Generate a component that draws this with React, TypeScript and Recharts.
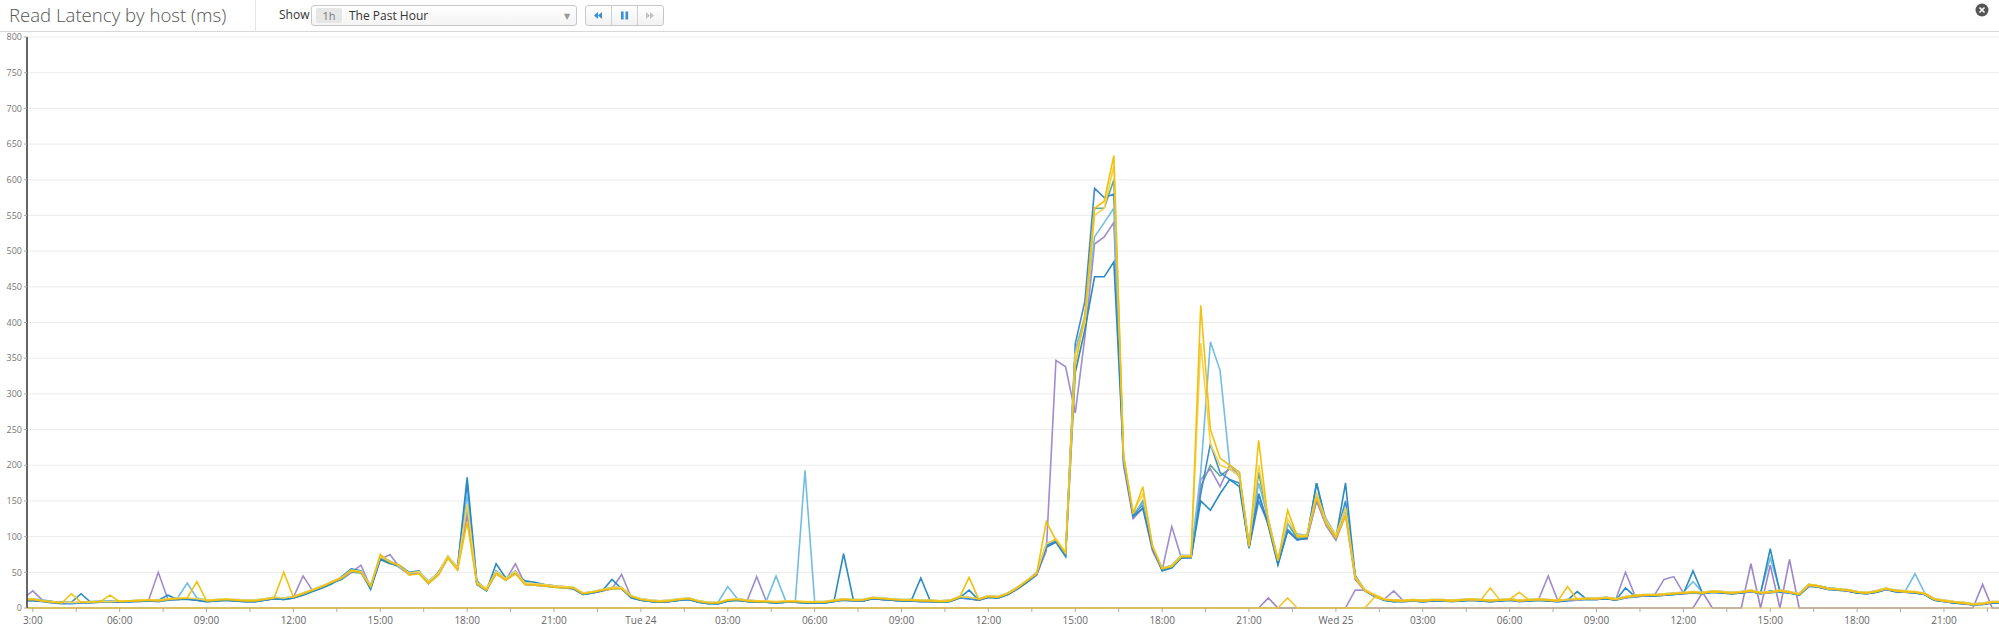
import React from "react";
import { LineChart, Line, XAxis, YAxis, CartesianGrid } from "recharts";

// time grid: one point every 20 minutes, starting Mon 02:00 (hour 2), hours counted from Mon 00:00
const START_HOUR = 2;
const STEP_HOURS = 1 / 3;

const xMajorHours = [3, 6, 9, 12, 15, 18, 21, 24, 27, 30, 33, 36, 39, 42, 45, 48, 51, 54, 57, 60, 63, 66, 69];
const xMajorLabels = ["3:00", "06:00", "09:00", "12:00", "15:00", "18:00", "21:00", "Tue 24", "03:00", "06:00", "09:00", "12:00", "15:00", "18:00", "21:00", "Wed 25", "03:00", "06:00", "09:00", "12:00", "15:00", "18:00", "21:00"];
const yTicks = [0, 50, 100, 150, 200, 250, 300, 350, 400, 450, 500, 550, 600, 650, 700, 750, 800];

const hostA = [
  11,11,12, 11,10,9, 8,8,20, 8,8,9, 9,9,10, 10,11,18,
  12,12,11, 9,10,11, 10,9,9, 11,13,12, 14,18,23, 28,34,44,
  55,52,26, 68,62,60, 50,52,34, 50,70,57, 183,38,24, 62,42,48,
  38,36,33, 31,28,27, 19,21,24, 40,27,14, 11,9,8, 9,11,12,
  8,6,6, 10,11,9, 8,8,7, 8,8,7, 7,7,9, 76,12,10,
  13,12,11, 10,10,42, 9,8,9, 14,25,11, 15,14,19, 27,36,47,
  85,92,72, 330,390,464, 464,485,210, 128,140,84, 52,56,70, 70,150,137,
  160,180,170, 84,160,115, 60,108,95, 98,175,118, 98,175,46, 24,16,11,
  9,10,10, 9,10,11, 10,10,11, 10,9,10, 11,10,10, 11,10,9,
  11,23,12, 12,13,11, 28,16,17, 17,18,19, 20,52,20, 22,21,20,
  21,23,20, 83,22,21, 18,30,31, 28,27,24, 21,20,22, 26,23,22,
  21,19,11, 9,7,6, 5,5,7, 7,
];
const hostB = [
  13,13,12, 13,11,9, 8,7,8, 9,10,10, 10,10,11, 11,11,13,
  14,35,14, 11,12,12, 12,11,11, 13,15,14, 16,21,26, 31,37,43,
  54,52,32, 72,66,57, 49,51,38, 49,73,57, 160,36,27, 52,41,51,
  35,34,33, 31,30,29, 21,23,26, 29,29,17, 13,11,10, 11,13,14,
  10,8,8, 30,13,11, 10,10,45, 10,10,193, 9,9,11, 13,12,12,
  15,14,13, 12,12,11, 11,10,11, 16,15,13, 17,16,21, 29,39,50,
  90,96,76, 360,410,520, 540,560,208, 132,147,86, 56,60,74, 74,190,373,
  333,200,190, 88,175,125, 68,118,104, 102,160,125, 102,140,45, 26,18,12,
  11,11,12, 11,12,12, 11,12,13, 12,11,12, 13,11,12, 13,12,11,
  12,13,14, 14,15,13, 16,18,19, 19,20,21, 22,37,22, 24,23,22,
  23,25,22, 70,25,23, 20,33,31, 28,27,26, 23,22,24, 28,25,24,
  48,21,13, 11,9,8, 6,7,9, 9,
];
const hostC = [
  14,14,13, 24,11,9, 8,7,8, 8,9,9, 9,10,10, 11,50,12,
  12,13,11, 10,11,12, 11,10,10, 12,14,13, 15,45,24, 29,35,41,
  50,60,29, 68,75,57, 47,49,35, 46,70,54, 130,34,25, 48,39,62,
  33,32,31, 29,30,27, 19,21,24, 27,47,15, 11,10,8, 9,11,12,
  8,7,6, 11,11,10, 44,9,8, 8,8,8, 8,7,10, 12,11,10,
  13,12,11, 11,12,10, 10,9,10, 14,13,11, 15,14,19, 26,36,46,
  80,347,338, 273,380,510, 520,540,200, 125,140,80, 53,114,70, 71,180,195,
  170,200,185, 90,160,118, 64,108,97, 96,150,115, 95,130,40, 24,17,11,
  10,9,10, 10,10,11, 10,11,11, 11,10,11, 12,10,11, 12,45,10,
  11,12,13, 13,14,12, 50,17,17, 18,40,44, 21,22,21, 23,22,21,
  22,24,21, 22,24,22, 19,32,30, 27,26,25, 22,21,23, 27,24,23,
  22,20,12, 10,8,7, 5,6,8, 8,
];
const hostD = [
  12,12,11, 12,10,8, 7,20,8, 8,9,18, 9,10,10, 11,10,12,
  13,14,37, 10,11,12, 11,10,10, 12,14,50, 15,20,25, 30,36,42,
  52,50,30, 75,64,60, 46,48,34, 46,70,53, 120,34,25, 48,39,48,
  33,32,31, 29,28,28, 20,22,25, 27,27,16, 12,10,9, 10,12,13,
  9,7,7, 11,12,10, 9,9,8, 9,9,8, 8,8,10, 12,11,11,
  14,13,12, 11,11,10, 10,9,10, 15,43,12, 16,15,20, 28,38,48,
  121,95,78, 340,410,560, 570,634,215, 132,170,86, 55,58,72, 72,424,250,
  210,200,190, 86,235,120, 66,137,100, 100,155,118, 98,130,42, 24,18,12,
  10,10,11, 10,11,11, 10,11,12, 11,10,11, 12,10,11, 12,11,10,
  30,12,13, 13,14,12, 15,17,18, 18,19,20, 21,22,21, 23,22,21,
  22,24,21, 22,24,22, 19,33,31, 27,26,25, 22,21,23, 27,24,23,
  22,20,12, 10,8,7, 5,6,8, 8,
];
const hostE = [
  11,11,11, 11,9,8, 7,7,7, 8,8,8, 9,9,10, 10,10,11,
  12,13,11, 10,10,11, 10,10,9, 11,13,12, 14,19,24, 29,35,40,
  50,49,28, 69,63,57, 47,49,35, 47,71,55, 140,34,25, 49,39,49,
  33,32,31, 29,28,27, 19,21,24, 27,27,15, 11,9,8, 9,11,12,
  8,7,6, 10,11,9, 8,8,7, 8,8,7, 7,7,9, 11,10,10,
  13,12,11, 10,10,9, 9,8,9, 14,13,11, 15,14,19, 27,37,47,
  86,93,74, 360,405,560, 560,600,212, 128,150,85, 54,57,71, 71,170,200,
  185,195,185, 85,190,122, 66,118,98, 98,150,120, 99,140,43, 25,17,11,
  10,10,10, 9,10,10, 10,10,11, 10,10,10, 11,10,10, 11,10,10,
  11,12,12, 12,13,12, 14,16,17, 17,18,19, 20,21,20, 22,21,20,
  21,23,20, 21,23,21, 18,31,29, 26,25,24, 21,20,22, 26,23,22,
  21,19,11, 9,7,6, 5,6,7, 7,
];
const hostF = [
  12,12,12, 13,10,9, 8,8,8, 9,9,9, 10,10,11, 12,11,13,
  14,14,13, 11,12,13, 12,11,11, 13,15,14, 16,21,26, 31,37,43,
  53,51,31, 72,65,59, 49,51,37, 49,73,56, 145,36,27, 51,41,51,
  35,34,33, 31,30,29, 21,23,26, 29,29,17, 13,11,10, 11,13,14,
  10,8,8, 12,13,11, 10,10,9, 10,10,9, 9,9,11, 13,12,12,
  15,14,13, 12,12,11, 11,10,11, 16,15,13, 17,16,21, 29,39,49,
  90,97,77, 355,400,550, 560,620,212, 134,160,88, 56,59,73, 73,371,230,
  200,195,185, 88,200,125, 68,125,102, 102,160,122, 102,140,44, 26,19,13,
  11,11,12, 11,12,12, 11,12,13, 12,11,12, 13,11,12, 13,12,11,
  12,13,14, 14,15,13, 16,18,19, 19,20,21, 22,23,22, 24,23,22,
  23,25,22, 23,25,23, 20,33,31, 28,27,26, 23,22,24, 28,25,24,
  23,21,13, 11,9,8, 6,7,9, 9,
];
const hostG = [
  10,10,10, 10,9,7, 6,6,7, 7,8,8, 8,9,9, 10,9,11,
  12,13,11, 9,10,11, 10,9,9, 11,13,12, 14,19,24, 29,35,41,
  53,51,29, 71,65,59, 49,51,36, 48,72,54, 175,33,24, 52,40,52,
  34,33,32, 30,29,28, 20,22,25, 28,28,15, 11,9,8, 9,11,12,
  8,6,6, 10,11,9, 8,8,7, 8,8,7, 7,7,9, 11,10,10,
  13,12,11, 10,10,9, 9,8,9, 14,13,11, 15,14,19, 27,37,48,
  88,94,74, 370,430,588, 575,580,205, 130,145,84, 54,57,71, 71,160,230,
  190,180,175, 84,150,118, 62,110,96, 98,175,120, 100,150,44, 25,17,11,
  9,9,10, 9,10,10, 9,10,11, 10,9,10, 11,9,10, 11,10,9,
  10,11,12, 12,13,11, 14,16,17, 17,18,19, 20,21,20, 22,21,20,
  21,23,20, 24,23,21, 18,31,29, 26,25,24, 21,20,22, 26,23,22,
  21,19,11, 9,7,6, 4,5,7, 7,
];
// yellow host: no data (0) until early Wednesday
const hostZ1 = [
  0,0,0, 0,0,0, 0,0,0, 0,0,0, 0,0,0, 0,0,0,
  0,0,0, 0,0,0, 0,0,0, 0,0,0, 0,0,0, 0,0,0,
  0,0,0, 0,0,0, 0,0,0, 0,0,0, 0,0,0, 0,0,0,
  0,0,0, 0,0,0, 0,0,0, 0,0,0, 0,0,0, 0,0,0,
  0,0,0, 0,0,0, 0,0,0, 0,0,0, 0,0,0, 0,0,0,
  0,0,0, 0,0,0, 0,0,0, 0,0,0, 0,0,0, 0,0,0,
  0,0,0, 0,0,0, 0,0,0, 0,0,0, 0,0,0, 0,0,0,
  0,0,0, 0,0,0, 0,14,0, 0,0,0, 0,0,0, 0,15,12,
  11,10,11, 10,11,11, 10,11,12, 11,28,11, 12,22,11, 12,11,10,
  12,12,13, 13,14,12, 15,17,18, 18,19,20, 21,22,21, 23,22,21,
  22,24,21, 22,24,22, 19,32,30, 27,26,25, 22,21,23, 27,24,23,
  22,20,12, 10,8,7, 5,6,8, 8,
];
// purple host: mostly 0 with occasional spikes
const hostZ2 = [
  0,0,0, 0,0,0, 0,0,0, 0,0,0, 0,0,0, 0,0,0,
  0,0,0, 0,0,0, 0,0,0, 0,0,0, 0,0,0, 0,0,0,
  0,0,0, 0,0,0, 0,0,0, 0,0,0, 0,0,0, 0,0,0,
  0,0,0, 0,0,0, 0,0,0, 0,0,0, 0,0,0, 0,0,0,
  0,0,0, 0,0,0, 0,0,0, 0,0,0, 0,0,0, 0,0,0,
  0,0,0, 0,0,0, 0,0,0, 0,0,0, 0,0,0, 0,0,0,
  0,0,0, 0,0,0, 0,0,0, 0,0,0, 0,0,0, 0,0,0,
  0,0,0, 0,0,14, 0,0,0, 0,0,0, 0,0,0, 0,0,0,
  0,0,0, 0,0,0, 0,0,0, 0,0,0, 0,0,0, 0,0,0,
  0,0,0, 0,0,0, 0,0,0, 0,0,0, 0,0,22, 0,0,0,
  0,62,0, 60,0,68, 0,0,0, 0,0,0, 0,0,0, 0,0,0,
  0,0,0, 0,0,0, 0,33,0, 0,
];
// purple host: no data until Wednesday 00:40
const hostZ3 = [
  0,0,0, 0,0,0, 0,0,0, 0,0,0, 0,0,0, 0,0,0,
  0,0,0, 0,0,0, 0,0,0, 0,0,0, 0,0,0, 0,0,0,
  0,0,0, 0,0,0, 0,0,0, 0,0,0, 0,0,0, 0,0,0,
  0,0,0, 0,0,0, 0,0,0, 0,0,0, 0,0,0, 0,0,0,
  0,0,0, 0,0,0, 0,0,0, 0,0,0, 0,0,0, 0,0,0,
  0,0,0, 0,0,0, 0,0,0, 0,0,0, 0,0,0, 0,0,0,
  0,0,0, 0,0,0, 0,0,0, 0,0,0, 0,0,0, 0,0,0,
  0,0,0, 0,0,0, 0,0,0, 0,0,0, 0,0,25, 25,17,12,
  24,10,11, 10,11,11, 10,11,12, 11,10,11, 12,10,11, 12,11,10,
  12,11,14, 12,15,13, 14,18,17, 19,18,21, 20,23,22, 22,23,20,
  23,23,22, 21,25,21, 20,31,31, 26,27,24, 23,20,24, 26,25,22,
  23,19,13, 9,9,6, 6,5,9, 7,
];

const seriesDefs = [
  { key: "e", values: hostE, color: "#5aa897" },
  { key: "c", values: hostC, color: "#a08ccc" },
  { key: "g", values: hostG, color: "#3f8ccf" },
  { key: "b", values: hostB, color: "#74bde2" },
  { key: "a", values: hostA, color: "#2a8bc2" },
  { key: "z3", values: hostZ3, color: "#a48fd0" },
  { key: "z2", values: hostZ2, color: "#9c86c9" },
  { key: "f", values: hostF, color: "#f4d24c" },
  { key: "z1", values: hostZ1, color: "#efc62a" },
  { key: "d", values: hostD, color: "#f2c10e" },
];

const data = hostA.map((_, i) => {
  const row: Record<string, number> = { h: START_HOUR + i * STEP_HOURS };
  seriesDefs.forEach((s) => {
    row[s.key] = s.values[i];
  });
  return row;
});

const xTicks: number[] = [];
xMajorHours.forEach((h) => {
  xTicks.push(h);
  xTicks.push(h + 1.5);
});

const XTick = (props: any) => {
  const { x, y, payload } = props;
  const idx = xMajorHours.indexOf(payload.value);
  if (idx < 0) return <g />;
  return (
    <text x={x} y={y} dy="0.71em" textAnchor="middle" fill="#666" fontSize={10} fontFamily="'Open Sans', sans-serif">
      {xMajorLabels[idx]}
    </text>
  );
};

const font = "'Open Sans', 'DejaVu Sans', sans-serif";

export default function App() {
  return (
    <div style={{ position: "absolute", left: 0, top: 0, width: 1999, height: 634, background: "#fff", fontFamily: font, overflow: "hidden" }}>
      {/* header */}
      <div style={{ position: "absolute", left: 9, top: 2, fontSize: 18.6, fontWeight: 300, color: "#555", whiteSpace: "nowrap", lineHeight: "26px" }}>
        Read Latency by host (ms)
      </div>
      <div style={{ position: "absolute", left: 255, top: 0, width: 1, height: 31, background: "#e6e6e6" }} />
      <div style={{ position: "absolute", left: 279, top: 7, fontSize: 12, color: "#333", lineHeight: "16px" }}>Show</div>
      <div style={{ position: "absolute", left: 311, top: 5, width: 264, height: 19, border: "1px solid #c8c8c8", borderRadius: 3, background: "linear-gradient(#fff, #f4f4f4)" }}>
        <div style={{ position: "absolute", left: 4, top: 2, width: 26, height: 15, background: "#e6e6e6", borderRadius: 2, fontSize: 11, color: "#777", textAlign: "center", lineHeight: "15px" }}>1h</div>
        <div style={{ position: "absolute", left: 37, top: 1, fontSize: 12, color: "#333", lineHeight: "17px" }}>The Past Hour</div>
        <div style={{ position: "absolute", left: 252, top: 1, fontSize: 8, color: "#999", lineHeight: "17px" }}>▼</div>
      </div>
      <div style={{ position: "absolute", left: 585, top: 5, width: 77, height: 19, border: "1px solid #c8c8c8", borderRadius: 3, background: "linear-gradient(#fff, #f2f2f2)" }}>
        <svg width={77} height={19} style={{ position: "absolute", left: 0, top: 0 }}>
          <line x1={25.5} y1={0} x2={25.5} y2={19} stroke="#d0d0d0" />
          <line x1={51.5} y1={0} x2={51.5} y2={19} stroke="#d0d0d0" />
          <polygon points="12,6 8,9.5 12,13" fill="#3a8fd2" />
          <polygon points="16,6 12,9.5 16,13" fill="#3a8fd2" />
          <rect x={35} y={5.5} width={2.6} height={8} fill="#3a8fd2" />
          <rect x={39.5} y={5.5} width={2.6} height={8} fill="#3a8fd2" />
          <polygon points="60,6 64,9.5 60,13" fill="#c4c4c4" />
          <polygon points="64,6 68,9.5 64,13" fill="#c4c4c4" />
        </svg>
      </div>
      <svg width={16} height={16} style={{ position: "absolute", left: 1974, top: 2 }}>
        <circle cx={8} cy={8} r={6.5} fill="#555" />
        <line x1={5.5} y1={5.5} x2={10.5} y2={10.5} stroke="#fff" strokeWidth={1.6} />
        <line x1={10.5} y1={5.5} x2={5.5} y2={10.5} stroke="#fff" strokeWidth={1.6} />
      </svg>
      <div style={{ position: "absolute", left: 0, top: 31, width: 1999, height: 1, background: "#d8d8d8" }} />

      <div style={{ position: "absolute", left: 0, top: 0 }}>
        <LineChart width={1999} height={634} data={data} margin={{ top: 37, right: 0, bottom: 0, left: 0 }}>
          <CartesianGrid vertical={false} stroke="#ececec" />
          <XAxis
            dataKey="h"
            type="number"
            domain={[2.8, 70.9]}
            allowDataOverflow
            ticks={xTicks}
            interval={0}
            height={26}
            tickSize={4}
            tickMargin={5}
            tick={<XTick />}
            axisLine={{ stroke: "#d9c66a", strokeWidth: 1 }}
            tickLine={{ stroke: "#aaa" }}
          />
          <YAxis
            type="number"
            domain={[0, 800]}
            ticks={yTicks}
            interval={0}
            width={27}
            tickSize={3}
            tickMargin={2}
            tick={{ fontSize: 9, fill: "#777", fontFamily: font }}
            axisLine={{ stroke: "#333", strokeWidth: 1.5 }}
            tickLine={{ stroke: "#aaa" }}
          />
          {seriesDefs.map((s) => (
            <Line
              key={s.key}
              dataKey={s.key}
              type="linear"
              stroke={s.color}
              strokeWidth={1.6}
              dot={false}
              activeDot={false}
              isAnimationActive={false}
            />
          ))}
        </LineChart>
      </div>
    </div>
  );
}
